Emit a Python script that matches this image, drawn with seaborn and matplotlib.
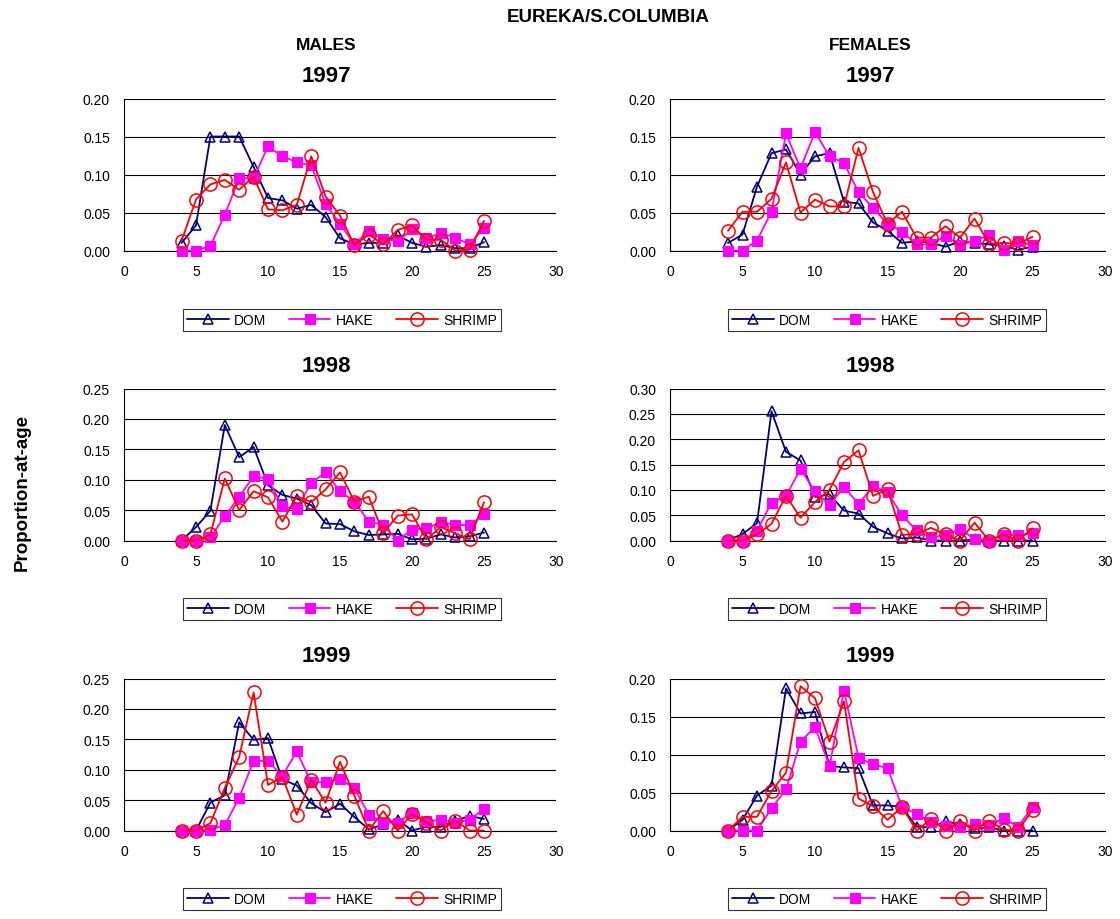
import numpy as np
import pandas as pd
import matplotlib
matplotlib.use("Agg")
import matplotlib.pyplot as plt
from matplotlib.ticker import FormatStrFormatter, MultipleLocator
import seaborn as sns

# Age classes
ages = list(range(4, 26))

# Proportion-at-age by fishery, males
males_1997_dom = [0.010, 0.033, 0.150, 0.150, 0.150, 0.110, 0.069, 0.066, 0.055, 0.060, 0.044, 0.016, 0.008, 0.010, 0.010, 0.020, 0.010, 0.005, 0.007, 0.003, 0.003, 0.011]
males_1997_hake = [0.000, 0.000, 0.006, 0.047, 0.095, 0.095, 0.137, 0.124, 0.116, 0.112, 0.061, 0.035, 0.008, 0.026, 0.015, 0.012, 0.028, 0.016, 0.023, 0.017, 0.008, 0.030]
males_1997_shrimp = [0.013, 0.067, 0.087, 0.093, 0.080, 0.097, 0.054, 0.053, 0.060, 0.124, 0.071, 0.046, 0.007, 0.021, 0.008, 0.027, 0.033, 0.014, 0.014, 0.000, 0.001, 0.039]

males_1998_dom = [0.000, 0.022, 0.049, 0.190, 0.137, 0.154, 0.091, 0.075, 0.069, 0.058, 0.028, 0.027, 0.015, 0.009, 0.010, 0.011, 0.002, 0.003, 0.010, 0.005, 0.007, 0.013]
males_1998_hake = [0.000, 0.000, 0.005, 0.040, 0.072, 0.106, 0.101, 0.056, 0.052, 0.095, 0.112, 0.081, 0.064, 0.031, 0.026, 0.000, 0.018, 0.020, 0.030, 0.026, 0.025, 0.043]
males_1998_shrimp = [0.000, 0.000, 0.010, 0.102, 0.050, 0.081, 0.071, 0.031, 0.073, 0.063, 0.084, 0.112, 0.064, 0.072, 0.012, 0.041, 0.043, 0.002, 0.022, 0.012, 0.002, 0.063]

males_1999_dom = [0.000, 0.000, 0.046, 0.058, 0.178, 0.149, 0.152, 0.084, 0.074, 0.045, 0.030, 0.044, 0.022, 0.002, 0.010, 0.018, 0.000, 0.006, 0.006, 0.016, 0.024, 0.019]
males_1999_hake = [0.000, 0.000, 0.001, 0.009, 0.054, 0.115, 0.114, 0.090, 0.130, 0.079, 0.080, 0.084, 0.070, 0.026, 0.013, 0.013, 0.029, 0.016, 0.017, 0.013, 0.018, 0.035]
males_1999_shrimp = [0.000, 0.000, 0.012, 0.070, 0.121, 0.227, 0.075, 0.088, 0.026, 0.083, 0.046, 0.113, 0.057, 0.000, 0.032, 0.000, 0.027, 0.013, 0.000, 0.016, 0.000, 0.000]

# Proportion-at-age by fishery, females
females_1997_dom = [0.010, 0.021, 0.084, 0.128, 0.133, 0.100, 0.124, 0.128, 0.064, 0.062, 0.037, 0.026, 0.010, 0.012, 0.010, 0.005, 0.012, 0.010, 0.008, 0.006, 0.001, 0.005]
females_1997_hake = [0.000, 0.000, 0.013, 0.051, 0.154, 0.108, 0.156, 0.124, 0.115, 0.077, 0.056, 0.035, 0.025, 0.008, 0.008, 0.019, 0.007, 0.013, 0.020, 0.001, 0.012, 0.007]
females_1997_shrimp = [0.026, 0.051, 0.051, 0.068, 0.116, 0.050, 0.067, 0.058, 0.058, 0.135, 0.077, 0.035, 0.051, 0.017, 0.017, 0.032, 0.017, 0.042, 0.009, 0.010, 0.009, 0.018]

females_1998_dom = [0.000, 0.013, 0.034, 0.255, 0.175, 0.158, 0.086, 0.091, 0.059, 0.053, 0.027, 0.014, 0.004, 0.006, 0.000, 0.000, 0.000, 0.002, 0.000, 0.000, 0.000, 0.000]
females_1998_hake = [0.000, 0.000, 0.019, 0.075, 0.088, 0.141, 0.097, 0.070, 0.106, 0.072, 0.107, 0.095, 0.050, 0.020, 0.006, 0.011, 0.022, 0.003, 0.000, 0.011, 0.011, 0.014]
females_1998_shrimp = [0.000, 0.000, 0.012, 0.033, 0.088, 0.045, 0.076, 0.100, 0.155, 0.178, 0.088, 0.101, 0.011, 0.013, 0.025, 0.012, 0.000, 0.035, 0.000, 0.012, 0.000, 0.024]

females_1999_dom = [0.000, 0.014, 0.046, 0.059, 0.187, 0.154, 0.156, 0.085, 0.083, 0.082, 0.033, 0.033, 0.031, 0.005, 0.004, 0.012, 0.008, 0.003, 0.004, 0.000, 0.000, 0.000]
females_1999_hake = [0.000, 0.000, 0.000, 0.029, 0.054, 0.117, 0.136, 0.085, 0.184, 0.096, 0.087, 0.082, 0.031, 0.022, 0.011, 0.006, 0.004, 0.008, 0.007, 0.016, 0.005, 0.031]
females_1999_shrimp = [0.000, 0.018, 0.018, 0.052, 0.076, 0.190, 0.174, 0.117, 0.170, 0.042, 0.032, 0.014, 0.031, 0.000, 0.015, 0.000, 0.013, 0.000, 0.013, 0.001, 0.000, 0.027]

gears = ["DOM", "HAKE", "SHRIMP"]
years = ["1997", "1998", "1999"]
sexes = ["MALES", "FEMALES"]
y_max = {("MALES", "1997"): 0.20, ("MALES", "1998"): 0.25, ("MALES", "1999"): 0.25,
         ("FEMALES", "1997"): 0.20, ("FEMALES", "1998"): 0.30, ("FEMALES", "1999"): 0.20}

series = {
    ("MALES", "1997"): [males_1997_dom, males_1997_hake, males_1997_shrimp],
    ("MALES", "1998"): [males_1998_dom, males_1998_hake, males_1998_shrimp],
    ("MALES", "1999"): [males_1999_dom, males_1999_hake, males_1999_shrimp],
    ("FEMALES", "1997"): [females_1997_dom, females_1997_hake, females_1997_shrimp],
    ("FEMALES", "1998"): [females_1998_dom, females_1998_hake, females_1998_shrimp],
    ("FEMALES", "1999"): [females_1999_dom, females_1999_hake, females_1999_shrimp],
}

sns.set_style("white")
plt.rcParams["font.family"] = ["Liberation Sans", "DejaVu Sans"]
plt.rcParams["text.color"] = "black"
plt.rcParams["axes.labelcolor"] = "black"

W, H = 1120, 920
fig = plt.figure(figsize=(W / 100, H / 100), dpi=100)

gear_style = {
    "DOM": dict(color="#000080", marker="^", markersize=7.5, markerfacecolor="none",
                markeredgecolor="#000080", markeredgewidth=1.1),
    "HAKE": dict(color="#FF00FF", marker="s", markersize=6.8, markerfacecolor="#FF00FF",
                 markeredgecolor="#FF00FF", markeredgewidth=0.8),
    "SHRIMP": dict(color="#FF0000", marker="o", markersize=9.5, markerfacecolor="none",
                   markeredgecolor="#FF0000", markeredgewidth=1.1),
}

col_left = {"MALES": 124, "FEMALES": 670}
col_width = {"MALES": 432, "FEMALES": 435}
col_center = {"MALES": 326, "FEMALES": 870}
legend_center = {"MALES": 342, "FEMALES": 887}
row_top = {"1997": 99.5, "1998": 389.5, "1999": 679.5}
row_title = {"1997": 77, "1998": 367, "1999": 657}
row_legend = {"1997": 321, "1998": 610, "1999": 900}
plot_h = 152

for sex in sexes:
    for year in years:
        x0, w = col_left[sex], col_width[sex]
        y_top = row_top[year]
        ax = fig.add_axes([x0 / W, 1 - (y_top + plot_h) / H, w / W, plot_h / H])
        values = series[(sex, year)]
        df = pd.DataFrame({"age": ages, **{g: v for g, v in zip(gears, values)}})
        long = df.melt(id_vars="age", var_name="gear", value_name="proportion")
        for g in gears:
            sns.lineplot(data=long[long["gear"] == g], x="age", y="proportion", ax=ax,
                         linewidth=1.3, errorbar=None, legend=False, clip_on=False,
                         zorder=3, **gear_style[g])
        ymax = y_max[(sex, year)]
        ax.set_xlim(0, 30)
        ax.set_ylim(0, ymax)
        ax.xaxis.set_major_locator(MultipleLocator(5))
        ax.yaxis.set_major_locator(MultipleLocator(0.05))
        ax.yaxis.set_major_formatter(FormatStrFormatter("%.2f"))
        ax.set_xlabel("")
        ax.set_ylabel("")
        ax.yaxis.grid(True, color="black", linewidth=0.8)
        ax.xaxis.grid(False)
        ax.set_axisbelow(True)
        for side in ["top", "right"]:
            ax.spines[side].set_visible(False)
        for side in ["left", "bottom"]:
            ax.spines[side].set_color("black")
            ax.spines[side].set_linewidth(0.8)
        ax.tick_params(axis="both", direction="out", length=4, width=0.8,
                       colors="black", labelsize=10)
        ax.tick_params(axis="y", pad=6)
        ax.tick_params(axis="x", pad=6)

        handles = ax.lines[:3]
        leg = ax.legend(handles, gears, loc="center",
                        bbox_to_anchor=(legend_center[sex] / W, 1 - row_legend[year] / H),
                        bbox_transform=fig.transFigure, ncol=3, frameon=True,
                        fancybox=False, edgecolor="black", fontsize=10,
                        handlelength=3.0, handletextpad=0.4, columnspacing=1.6,
                        borderpad=0.3, numpoints=1)
        leg.get_frame().set_linewidth(0.8)
        for t in leg.get_texts():
            t.set_color("black")

        fig.text(col_center[sex] / W, 1 - row_title[year] / H, year,
                 ha="center", va="center", fontsize=16, fontweight="bold", color="black")

for sex in sexes:
    fig.text(col_center[sex] / W, 1 - 46 / H, sex, ha="center", va="center",
             fontsize=12.5, fontweight="bold", color="black")

fig.text(608 / W, 1 - 17 / H, "EUREKA/S.COLUMBIA", ha="center", va="center",
         fontsize=13.5, fontweight="bold", color="black")
fig.text(22 / W, 1 - 493 / H, "Proportion-at-age", ha="center", va="center",
         rotation=90, fontsize=13.5, fontweight="bold", color="black")

fig.savefig("out.png", dpi=100, facecolor="white")
